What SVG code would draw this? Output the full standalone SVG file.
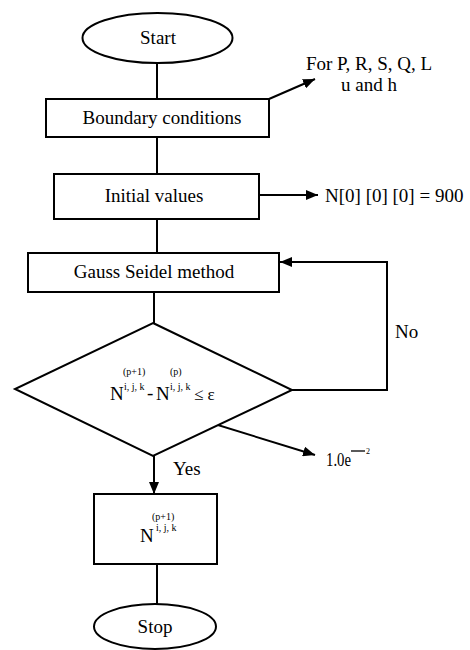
<svg xmlns="http://www.w3.org/2000/svg" width="470" height="650" viewBox="0 0 470 650" font-family="'Liberation Serif','Times New Roman',serif">
<style>
.s{fill:#fff;stroke:#000;stroke-width:2}
.c{fill:none;stroke:#000;stroke-width:2}
text{font-family:"Liberation Serif","Times New Roman",serif;fill:#000}
.t{font-size:19px;text-anchor:middle}
.l{font-size:19px}
.sm{font-size:10px}
</style>
<defs>
<marker id="ah" viewBox="0 0 12 10" refX="12" refY="5" markerWidth="12" markerHeight="10" markerUnits="userSpaceOnUse" orient="auto">
<path d="M0,0 L12,5 L0,10 Z" fill="#000"/>
</marker>
</defs>
<rect width="470" height="650" fill="#fff"/>
<g id="connectors">
<line class="c" x1="157" y1="63" x2="157" y2="99"/>
<line class="c" x1="269" y1="99" x2="315" y2="79" marker-end="url(#ah)"/>
<line class="c" x1="157" y1="137" x2="157" y2="174"/>
<line class="c" x1="259" y1="195" x2="318" y2="195" marker-end="url(#ah)"/>
<line class="c" x1="157" y1="219" x2="157" y2="253"/>
<line class="c" x1="154" y1="292" x2="154" y2="323"/>
<path class="c" d="M292,390 H387 V262 H280" marker-end="url(#ah)"/>
<line class="c" x1="182" y1="414" x2="315" y2="455" marker-end="url(#ah)"/>
<line class="c" x1="154" y1="456" x2="154" y2="494" marker-end="url(#ah)"/>
<line class="c" x1="157" y1="564" x2="157" y2="604"/>
</g>
<g id="start">
<ellipse class="s" cx="157.5" cy="38" rx="75" ry="25"/>
<text class="t" x="158" y="44">Start</text>
</g>
<g id="boundary">
<rect class="s" x="46" y="99" width="223" height="38"/>
<text class="t" x="162" y="124">Boundary conditions</text>
</g>
<g id="boundary-note">
<text class="t" x="369" y="70">For P, R, S, Q, L</text>
<text class="t" x="369" y="91">u and h</text>
</g>
<g id="initial">
<rect class="s" x="54" y="174" width="205" height="45"/>
<text class="t" x="154" y="202">Initial values</text>
</g>
<g id="initial-note">
<text class="l" x="325" y="202">N[0] [0] [0] = 900</text>
</g>
<g id="gauss">
<rect class="s" x="28" y="253" width="251" height="39"/>
<text class="t" x="154" y="278">Gauss Seidel method</text>
</g>
<g id="decision">
<polygon class="s" points="153,323 292,390 153,456 15,389"/>
<text class="l" x="110" y="400">N</text>
<text class="sm" x="123" y="375">(p+1)</text>
<text class="sm" x="124" y="390">i, j, k</text>
<text class="l" x="147" y="399">-</text>
<text class="l" x="156" y="400">N</text>
<text class="sm" x="170" y="375">(p)</text>
<text class="sm" x="170" y="390">i, j, k</text>
<text class="l" x="194" y="400" style="font-size:17px">≤ ε</text>
</g>
<g id="epsilon-note">
<text class="l" x="326" y="466" style="font-size:18px" textLength="25" lengthAdjust="spacingAndGlyphs">1.0e</text>
<line x1="351" y1="451" x2="365" y2="451" stroke="#000" stroke-width="1.3"/>
<text x="366" y="454" style="font-size:8px">2</text>
</g>
<g id="label-no"><text class="l" x="395" y="338">No</text></g>
<g id="label-yes"><text class="l" x="173" y="475">Yes</text></g>
<g id="result">
<rect class="s" x="94" y="494" width="123" height="70"/>
<text class="l" x="140" y="542">N</text>
<text class="sm" x="152" y="520">(p+1)</text>
<text class="sm" x="156" y="531">i, j, k</text>
</g>
<g id="stop">
<ellipse class="s" cx="155" cy="626.5" rx="61" ry="22.5"/>
<text class="t" x="155" y="633">Stop</text>
</g>
</svg>
